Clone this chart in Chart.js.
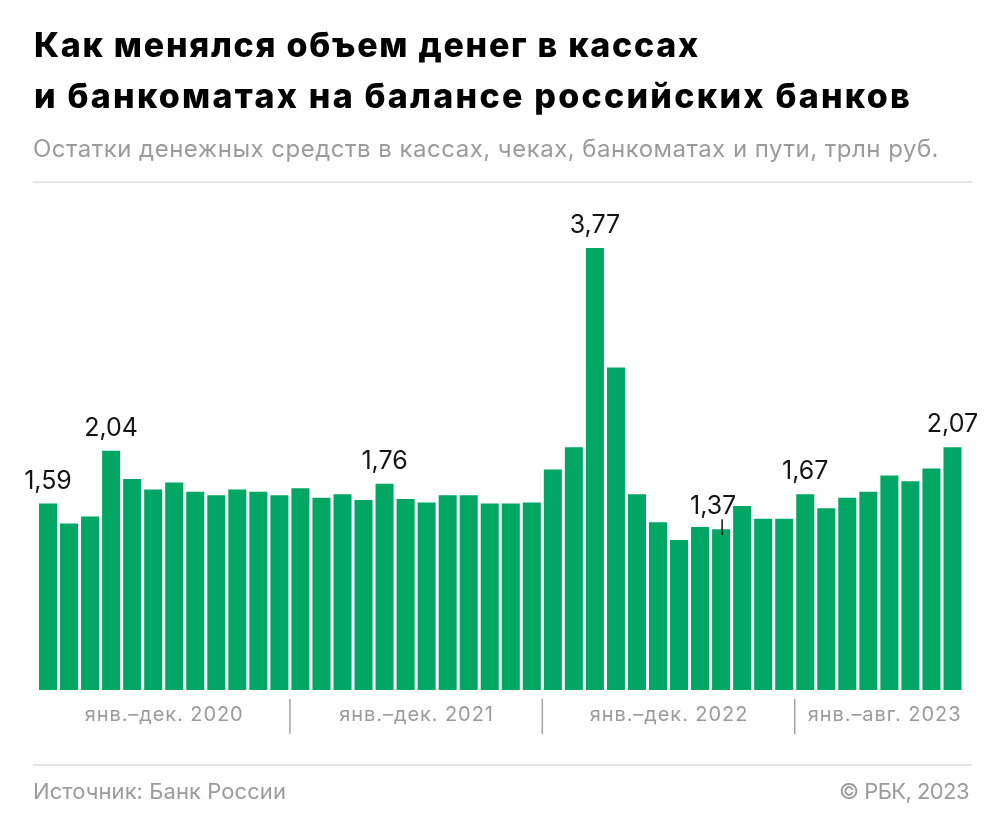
<!DOCTYPE html>
<html lang="ru">
<head>
<meta charset="utf-8">
<script src="https://cdn.jsdelivr.net/npm/chart.js@4.4.0/dist/chart.umd.min.js"></script>
<style>
html,body{margin:0;padding:0;background:#fff;}
body{width:1005px;height:836px;overflow:hidden;position:relative;font-family:Inter,"Noto Sans",Roboto,sans-serif;}
#chart{position:absolute;left:0;top:0;}
.t{position:absolute;white-space:nowrap;line-height:1;}
#t1,#t2{left:34px;font-weight:800;font-size:34px;color:#000;}
#t1{top:28px;}
#t2{top:79px;}
#sub{left:33px;top:137px;font-size:24px;color:#9b9b9b;font-weight:400;}
#src{left:33px;top:780px;font-size:22px;color:#9b9b9b;}
#copy{right:36px;top:780px;font-size:22px;color:#9b9b9b;}
.rule{position:absolute;left:33px;width:939px;height:2px;background:#e6e6e6;}
</style>
</head>
<body>
<canvas id="chart" width="1005" height="836"></canvas>
<div class="t" id="t1">Как менялся объем денег в кассах</div>
<div class="t" id="t2">и банкоматах на балансе российских банков</div>
<div class="t" id="sub">Остатки денежных средств в кассах, чеках, банкоматах и пути, трлн руб.</div>
<div class="rule" style="top:181px"></div>
<div class="rule" style="top:764px"></div>
<div class="t" id="src">Источник: Банк России</div>
<div class="t" id="copy">© РБК, 2023</div>
<script>
// ---- data ----
const months = [
 'янв. 2020','фев. 2020','мар. 2020','апр. 2020','май 2020','июн. 2020','июл. 2020','авг. 2020','сен. 2020','окт. 2020','ноя. 2020','дек. 2020',
 'янв. 2021','фев. 2021','мар. 2021','апр. 2021','май 2021','июн. 2021','июл. 2021','авг. 2021','сен. 2021','окт. 2021','ноя. 2021','дек. 2021',
 'янв. 2022','фев. 2022','мар. 2022','апр. 2022','май 2022','июн. 2022','июл. 2022','авг. 2022','сен. 2022','окт. 2022','ноя. 2022','дек. 2022',
 'янв. 2023','фев. 2023','мар. 2023','апр. 2023','май 2023','июн. 2023','июл. 2023','авг. 2023'
];
const values2020 = [1.59,1.42,1.48,2.04,1.80,1.71,1.77,1.69,1.66,1.71,1.69,1.66];
const values2021 = [1.72,1.64,1.67,1.62,1.76,1.63,1.60,1.66,1.66,1.59,1.59,1.60];
const values2022 = [1.88,2.07,3.77,2.75,1.67,1.43,1.28,1.39,1.37,1.57,1.46,1.46];
const values2023 = [1.67,1.55,1.64,1.69,1.83,1.78,1.89,2.07];
const values = [].concat(values2020, values2021, values2022, values2023);
const labeledIdx = [0, 3, 16, 26, 32, 36, 43];
const groupLabels = ['янв.–дек. 2020','янв.–дек. 2021','янв.–дек. 2022','янв.–авг. 2023'];
const groupSizes = [12, 12, 12, 8];

// ---- styles ----
const GREEN = '#00a664';
const GRAY = '#9b9b9b';
const labelStyle = { 32: { dx: -8, tick: true } };
const FIRST_GROUP_LABEL_WIDTH = 159;

function fitText(id, target){
  const el = document.getElementById(id);
  el.style.letterSpacing = '0px';
  const w = el.getBoundingClientRect().width;
  const n = el.textContent.length;
  el.style.letterSpacing = ((target - w) / n) + 'px';
}

const overlay = {
  id: 'overlay',
  afterDatasetsDraw(chart){
    const ctx = chart.ctx;
    const xs = chart.scales.x;
    const meta = chart.getDatasetMeta(0);
    ctx.save();
    // value labels
    ctx.font = '400 25px Inter, "Noto Sans", sans-serif';
    ctx.fillStyle = '#141414';
    ctx.textAlign = 'center';
    ctx.textBaseline = 'alphabetic';
    labeledIdx.forEach(i => {
      const bar = meta.data[i];
      const st = labelStyle[i] || {};
      const txt = values[i].toFixed(2).replace('.', ',');
      ctx.fillText(txt, bar.x + (st.dx || 0), bar.y - 15);
      if (st.tick){
        ctx.strokeStyle = '#141414';
        ctx.lineWidth = 1.5;
        ctx.beginPath();
        ctx.moveTo(bar.x + 1, bar.y - 10);
        ctx.lineTo(bar.x + 1, bar.y + 6);
        ctx.stroke();
      }
    });
    // group labels and separators
    ctx.font = '400 20px Inter, "Noto Sans", sans-serif';
    ctx.fillStyle = GRAY;
    ctx.letterSpacing = '0px';
    const ls = (FIRST_GROUP_LABEL_WIDTH - ctx.measureText(groupLabels[0]).width) / groupLabels[0].length;
    ctx.letterSpacing = ls + 'px';
    let start = 0;
    groupSizes.forEach((n, g) => {
      const end = start + n - 1;
      const c = (xs.getPixelForValue(start) + xs.getPixelForValue(end)) / 2;
      const label = groupLabels[g];
      const w = ctx.measureText(label).width - ls;
      let cx = c;
      if (g > 0){
        const sep = (xs.getPixelForValue(start - 1) + xs.getPixelForValue(start)) / 2;
        ctx.strokeStyle = '#a3a3a3';
        ctx.lineWidth = 1.5;
        ctx.beginPath();
        ctx.moveTo(sep, 699);
        ctx.lineTo(sep, 734);
        ctx.stroke();
        cx = Math.max(c, sep + 13 + w / 2);
      }
      ctx.textAlign = 'left';
      ctx.fillText(label, cx - w / 2, 721);
      start += n;
    });
    ctx.restore();
  }
};

new Chart(document.getElementById('chart'), {
  type: 'bar',
  data: {
    labels: months,
    datasets: [{
      data: values,
      backgroundColor: GREEN,
      borderWidth: 0,
      barPercentage: 0.857,
      categoryPercentage: 1.0
    }]
  },
  options: {
    responsive: false,
    animation: false,
    events: [],
    layout: { padding: { left: 37.5, right: 42, top: 221, bottom: 146 } },
    plugins: { legend: { display: false }, tooltip: { enabled: false } },
    scales: {
      x: { display: false, offset: true, grid: { display: false } },
      y: { display: false, min: 0, max: 4, grid: { display: false } }
    }
  },
  plugins: [overlay]
});

fitText('t1', 666);
fitText('t2', 878);
fitText('sub', 906);
fitText('src', 253);
fitText('copy', 130);
</script>
</body>
</html>
